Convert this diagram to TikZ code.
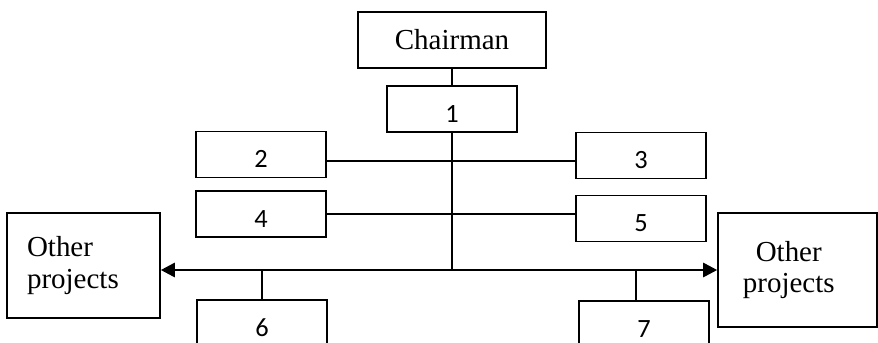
\documentclass[tikz,border=0pt]{standalone}
\usepackage{fontspec}
\setmainfont{Liberation Serif}
\newfontfamily\numfont{Carlito}
\usetikzlibrary{arrows.meta}

\begin{document}
\begin{tikzpicture}[x=0.02cm, y=-0.02cm,
        unit/.style={draw, line width=0.9pt, minimum width=2.6cm, minimum height=0.92cm, inner sep=0pt, text height=15pt, text depth=0pt, font=\numfont\fontsize{15}{15}\selectfont},
        other/.style={draw, line width=0.9pt, inner sep=0pt, font=\fontsize{16.5}{18}\selectfont},
        link/.style={line width=0.6pt}]
        \useasboundingbox (0,0) rectangle (878,342);
        \clip (0,0) rectangle (878,342);

        \node[draw, line width=0.9pt, minimum width=3.76cm, minimum height=1.12cm, inner sep=0pt, font=\fontsize{16.5}{18}\selectfont] (chair) at (452,40) {Chairman};
        \node[unit] (b1) at (452,109) {1};
        \foreach \n/\x/\y in {2/261/154.5, 3/641/155.5, 4/261/214, 5/641/218.5, 6/262/323, 7/644/324} {
            \node[unit] (b\n) at (\x,\y) {\n};
        }
        \node[other, align=left, text width=2.26cm, inner xsep=0.4cm, minimum height=2.1cm] (lo) at (83.5,265.5) {Other\\projects};
        \node[other, align=center, text width=2.9cm, inner xsep=0.14cm, minimum height=2.28cm] (ro) at (797.5,270) {\hspace*{-0.35cm}Other\\\hspace*{-0.35cm}projects};

        \coordinate (hub) at (452,270);
        \coordinate (r23) at ([yshift=-0.13cm]b2.east);

        \draw[link] (chair) -- (b1);
        \draw[link] (b1.south) -- (hub);
        \draw[link] (r23) -- (r23 -| b3.west);
        \draw[link] (b4.east) -- (b4.east -| b5.west);
        \draw[line width=1.5pt, {Triangle[length=8pt,width=8pt]}-{Triangle[length=8pt,width=8pt]}] (lo.east |- hub) -- (ro.west |- hub);
        \draw[link] (b6.north) -- (b6.north |- hub);
        \draw[link] ([xshift=-0.16cm]b7.north) -- ([xshift=-0.16cm]b7.north |- hub);
    \end{tikzpicture}
\end{document}
